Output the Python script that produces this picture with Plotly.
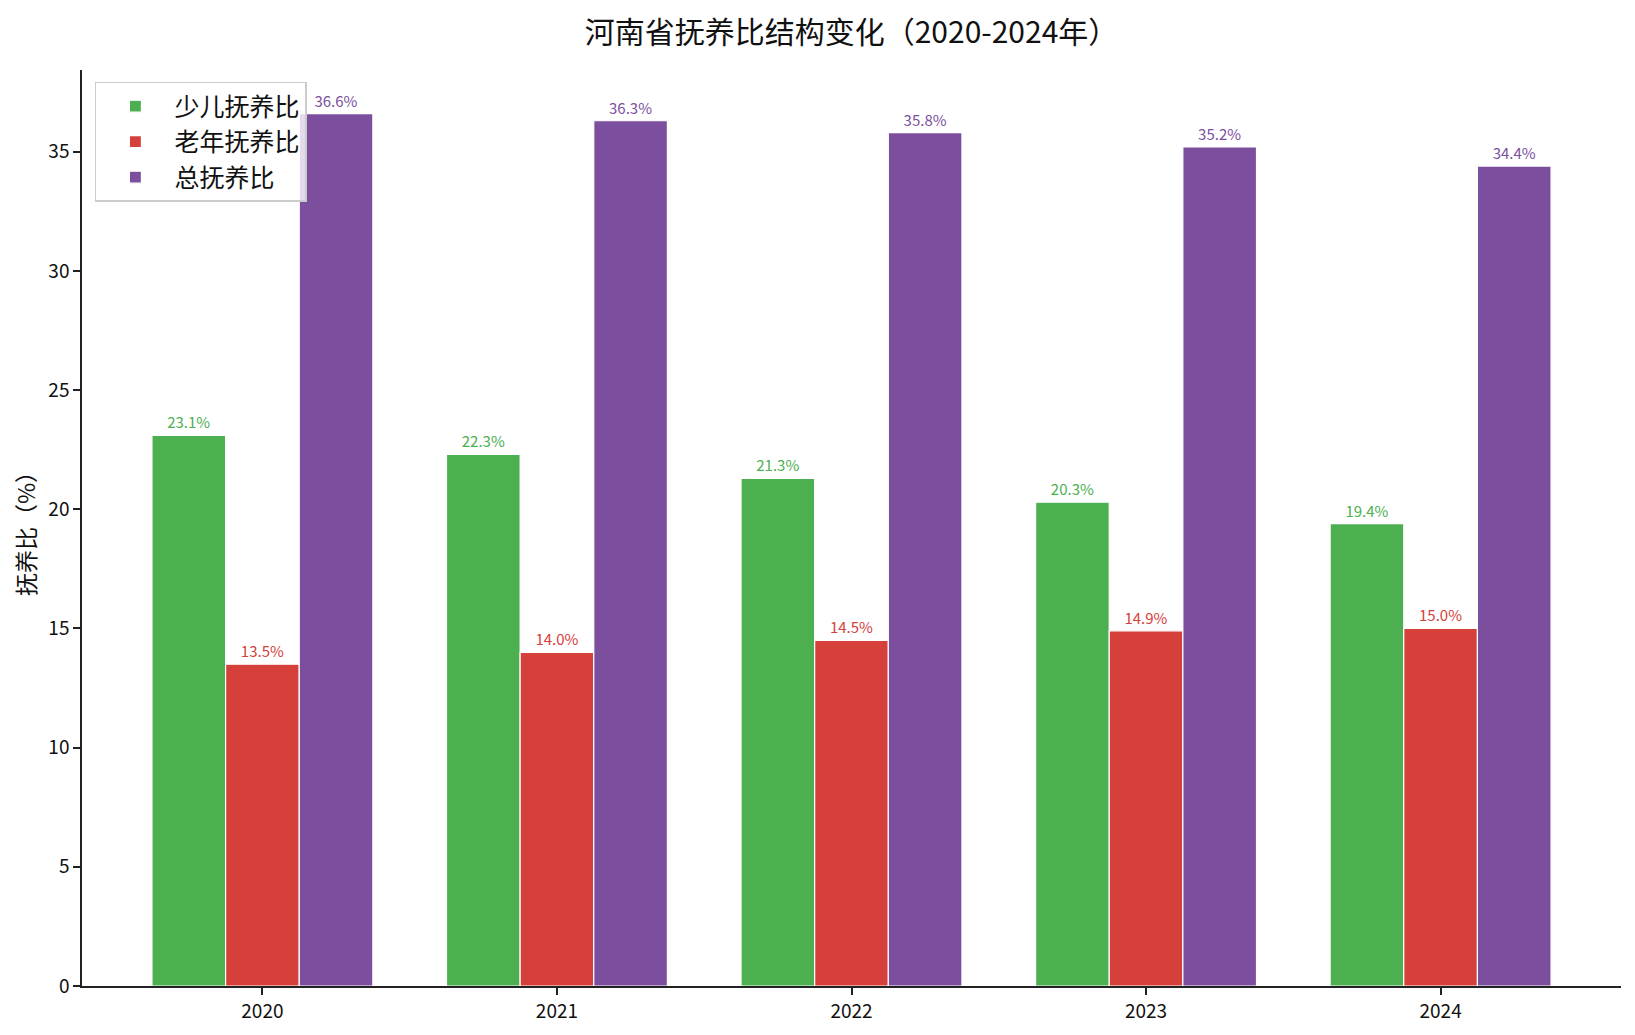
import plotly.graph_objects as go

years = ["2020", "2021", "2022", "2023", "2024"]
child_ratio = [23.1, 22.3, 21.3, 20.3, 19.4]
elder_ratio = [13.5, 14.0, 14.5, 14.9, 15.0]
total_ratio = [36.6, 36.3, 35.8, 35.2, 34.4]
series_names = ["少儿抚养比", "老年抚养比", "总抚养比"]
colors = ["#4CAF50", "#D6403A", "#7B4F9E"]
y_ticks = [0, 5, 10, 15, 20, 25, 30, 35]

FONT = "Noto Sans CJK SC"

fig = go.Figure()
for name, vals, col in zip(series_names, [child_ratio, elder_ratio, total_ratio], colors):
    fig.add_trace(go.Bar(
        x=years, y=vals, name=name,
        marker=dict(color=col, line=dict(color="white", width=1.2)),
        text=[f"{v:.1f}%" for v in vals],
        textposition="outside",
        textfont=dict(family=FONT, size=15, color=col),
        cliponaxis=False,
    ))

fig.update_layout(
    width=1635, height=1035,
    barmode="group", bargap=0.25, bargroupgap=0,
    plot_bgcolor="white", paper_bgcolor="white",
    margin=dict(l=74, r=22, t=62, b=57, autoexpand=False),
    font=dict(family=FONT, color="#111"),
    title=dict(text="河南省抚养比结构变化（2020-2024年）", x=(74 + 1539 / 2) / 1635, xanchor="center",
               y=1 - 24 / 1035, yanchor="middle", font=dict(family=FONT, size=30, color="#111")),
    legend=dict(x=0.0084, y=0.987, xanchor="left", yanchor="top",
                bgcolor="rgba(255,255,255,0.8)", bordercolor="#cccccc", borderwidth=1.5,
                font=dict(family=FONT, size=25, color="#111"), itemwidth=68,
                tracegroupgap=2),
)
fig.update_xaxes(
    type="category", range=[-0.6125, 4.6125],
    showline=True, linecolor="#222", linewidth=1.5,
    ticks="outside", ticklen=7, tickwidth=1.5, tickcolor="#222",
    tickfont=dict(family=FONT, size=19, color="#111"),
    showgrid=False, zeroline=False,
)
fig.update_yaxes(
    range=[0, 38.43], tickvals=y_ticks,
    showline=True, linecolor="#222", linewidth=1.5,
    ticks="outside", ticklen=7, tickwidth=1.5, tickcolor="#222",
    tickfont=dict(family=FONT, size=19, color="#111"),
    showgrid=False, zeroline=False,
    title=dict(text="抚养比（%）", font=dict(family=FONT, size=23, color="#111"), standoff=14),
)

fig.write_html("out.html")
